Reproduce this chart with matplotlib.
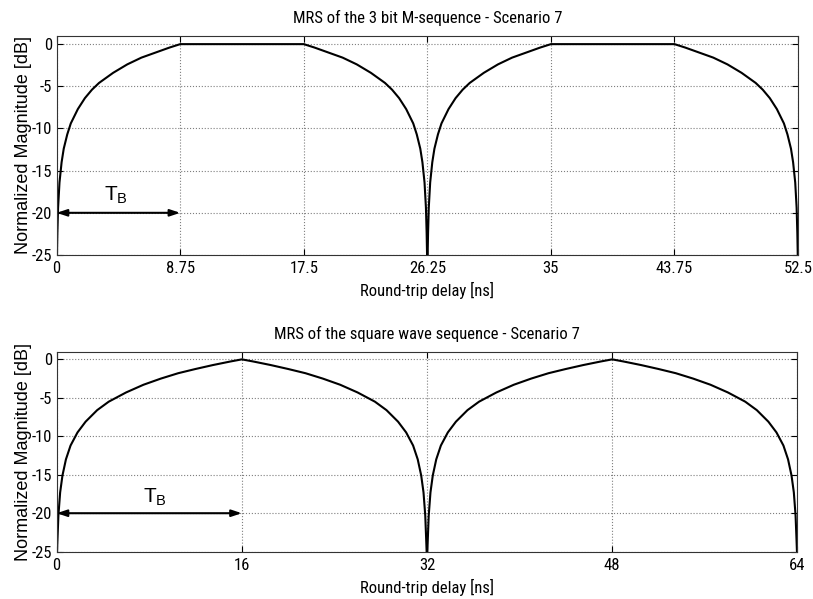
import numpy as np
import matplotlib
matplotlib.use("Agg")
import matplotlib.pyplot as plt

plt.rcParams['font.family'] = ['Roboto Condensed', 'Liberation Sans', 'DejaVu Sans']
plt.rcParams['mathtext.fontset'] = 'custom'
plt.rcParams['mathtext.rm'] = 'Liberation Sans'
plt.rcParams['mathtext.bf'] = 'Liberation Sans:bold'

# ---- data ----
# Top: 3 bit M-sequence, bit duration T_B = 8.75 ns
top_TB = 8.75
top_ticks = [0, 8.75, 17.5, 26.25, 35, 43.75, 52.5]
top_ticklabels = ['0', '8.75', '17.5', '26.25', '35', '43.75', '52.5']
# rising-edge profile (offset from the null [ns], level [dB])
top_edge_x = [0, 0.02, 0.05, 0.1, 0.2, 0.35, 0.5, 0.75, 1.0, 1.5, 2.0, 2.5, 3.0,
              3.5, 4.0, 5.0, 6.0, 7.0, 8.0, 8.75]
top_edge_y = [-25, -25, -22.4, -19.4, -16.4, -14.0, -12.4, -10.7, -9.4, -7.7, -6.4,
              -5.4, -4.6, -4.0, -3.4, -2.4, -1.6, -1.0, -0.4, 0.0]
top_nulls = [0, 26.25]          # start of each lobe
top_flat = 8.75                 # width of the 0 dB plateau

# Bottom: square wave sequence, T_B = 16 ns
bot_TB = 16
bot_ticks = [0, 16, 32, 48, 64]
bot_ticklabels = ['0', '16', '32', '48', '64']
bot_edge_x = [0, 0.03, 0.08, 0.15, 0.3, 0.5, 0.8, 1.2, 1.8, 2.5, 3.5, 4.5, 6.0,
              7.5, 9.0, 10.5, 12.0, 13.5, 15.0, 16.0]
bot_edge_y = [-25, -25, -23.0, -20.3, -17.3, -15.1, -13.0, -11.2, -9.5, -8.1, -6.6,
              -5.5, -4.3, -3.3, -2.5, -1.8, -1.25, -0.74, -0.28, 0.0]
bot_nulls = [0, 32]
bot_flat = 0.0

y_ticks = [0, -5, -10, -15, -20, -25]


def build(edge_x, edge_y, nulls, flat):
    ex = np.array(edge_x, float)
    ey = np.array(edge_y, float)
    w = ex[-1]
    xs, ys = [], []
    for n in nulls:
        xs.append(n + ex); ys.append(ey)
        if flat > 0:
            xs.append(np.array([n + w + flat])); ys.append(np.array([0.0]))
        xs.append(n + w + flat + (w - ex[::-1])); ys.append(ey[::-1])
    return np.concatenate(xs), np.concatenate(ys)


fig = plt.figure(figsize=(8.13, 5.99), dpi=100)
ax1 = fig.add_axes([0.0697, 0.5743, 0.9119, 0.3661])
ax2 = fig.add_axes([0.0697, 0.0790, 0.9110, 0.3339])

panels = [
    (ax1, build(top_edge_x, top_edge_y, top_nulls, top_flat), top_ticks, top_ticklabels,
     'MRS of the 3 bit M-sequence - Scenario 7', top_TB, (4.2, -17.9)),
    (ax2, build(bot_edge_x, bot_edge_y, bot_nulls, bot_flat), bot_ticks, bot_ticklabels,
     'MRS of the square wave sequence - Scenario 7', bot_TB, (8.5, -17.9)),
]

FS = 12
for ax, (x, y), ticks, labels, title, TB, tpos in panels:
    ax.plot(x, y, color='black', lw=1.5, solid_joinstyle='miter')
    ax.set_xlim(ticks[0], ticks[-1])
    ax.set_ylim(-25, 1)
    ax.set_xticks(ticks)
    ax.set_xticklabels(labels)
    ax.set_yticks(y_ticks)
    ax.set_yticklabels([str(v) for v in y_ticks])
    ax.grid(True, linestyle=':', color='#7f7f7f', linewidth=0.8)
    ax.tick_params(direction='in', top=True, right=True, length=4, width=0.8,
                   labelsize=FS)
    ax.tick_params(axis='x', pad=4.5)
    ax.tick_params(axis='y', pad=3)
    for s in ax.spines.values():
        s.set_linewidth(0.8)
        s.set_color('#333333')
    ax.set_title(title, fontsize=FS, pad=9)
    ax.set_xlabel('Round-trip delay [ns]', fontsize=FS, labelpad=4)
    ax.set_ylabel('Normalized Magnitude [dB]', fontsize=13, labelpad=0,
                  family=['Liberation Sans', 'DejaVu Sans'])
    ax.annotate('', xy=(TB, -20), xytext=(0, -20),
                arrowprops=dict(arrowstyle='<|-|>,head_length=0.6,head_width=0.2',
                                color='black', lw=1.5, shrinkA=0, shrinkB=0))
    ax.text(tpos[0], tpos[1], r'$\mathrm{T_B}$', fontsize=15,
            ha='center', va='center')

fig.savefig('out.png', dpi=100)
